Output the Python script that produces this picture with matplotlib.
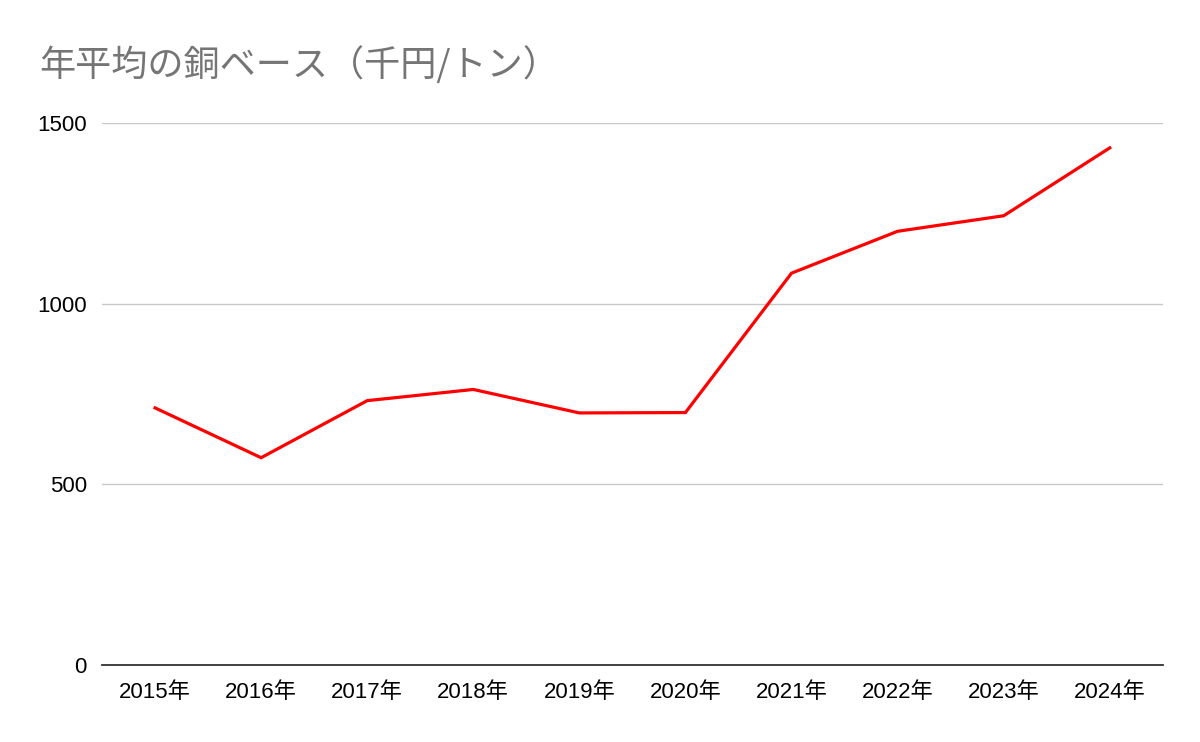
import matplotlib.pyplot as plt

plt.rcParams['font.family'] = ['Liberation Sans', 'Noto Sans CJK JP', 'DejaVu Sans']

# data
years = ["2015年", "2016年", "2017年", "2018年", "2019年",
         "2020年", "2021年", "2022年", "2023年", "2024年"]
prices = [712, 574, 732, 763, 698, 699, 1085, 1201, 1244, 1432]
yticks = [0, 500, 1000, 1500]

fig = plt.figure(figsize=(12, 7.42), dpi=100)
ax = fig.add_axes([0.085, 0.1038, 0.884, 0.730])

x = range(len(years))
ax.plot(x, prices, color="#ff0000", linewidth=2.3, solid_joinstyle="miter")

ax.set_xlim(-0.5, len(years) - 0.5)
ax.set_ylim(0, 1500)
ax.set_xticks(list(x))
ax.set_xticklabels(years, fontsize=16)
ax.set_yticks(yticks)
ax.set_yticklabels([str(v) for v in yticks], fontsize=16)
ax.tick_params(axis="y", length=0, pad=11)
ax.tick_params(axis="x", length=0, pad=12)

ax.grid(axis="y", color="#c8c8c8", linewidth=1)
ax.set_axisbelow(True)
for s in ["top", "right", "left"]:
    ax.spines[s].set_visible(False)
ax.spines["bottom"].set_color("#333333")
ax.spines["bottom"].set_linewidth(1.3)

fig.text(0.033, 0.912, "年平均の銅ベース（千円/トン）", fontsize=26, color="#757575",
         family=["Noto Sans CJK JP", "DejaVu Sans"], va="center", ha="left")

plt.savefig("out.png", dpi=100)
